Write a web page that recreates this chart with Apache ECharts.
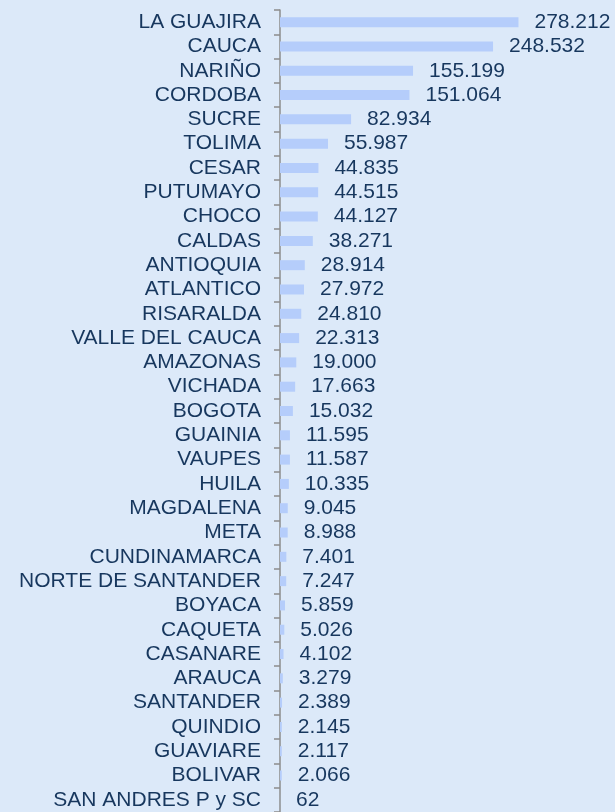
<!DOCTYPE html>
<html>
<head>
<meta charset="utf-8">
<script src="https://cdn.jsdelivr.net/npm/echarts@6/dist/echarts.min.js"></script>
<style>
  html, body { margin: 0; padding: 0; background: #dce9f9; }
  #chart { width: 615px; height: 812px; }
</style>
</head>
<body>
<div id="chart"></div>
<script>
// departamentos, de mayor a menor
var categories = ['LA GUAJIRA', 'CAUCA', 'NARIÑO', 'CORDOBA', 'SUCRE', 'TOLIMA', 'CESAR',
  'PUTUMAYO', 'CHOCO', 'CALDAS', 'ANTIOQUIA', 'ATLANTICO', 'RISARALDA', 'VALLE DEL CAUCA',
  'AMAZONAS', 'VICHADA', 'BOGOTA', 'GUAINIA', 'VAUPES', 'HUILA', 'MAGDALENA', 'META',
  'CUNDINAMARCA', 'NORTE DE SANTANDER', 'BOYACA', 'CAQUETA', 'CASANARE', 'ARAUCA',
  'SANTANDER', 'QUINDIO', 'GUAVIARE', 'BOLIVAR', 'SAN ANDRES P y SC'];
var values = [278212, 248532, 155199, 151064, 82934, 55987, 44835,
  44515, 44127, 38271, 28914, 27972, 24810, 22313,
  19000, 17663, 15032, 11595, 11587, 10335, 9045, 8988,
  7401, 7247, 5859, 5026, 4102, 3279,
  2389, 2145, 2117, 2066, 62];

// separador de miles con punto
function fmt(v) {
  return String(v).replace(/\B(?=(\d{3})+(?!\d))/g, '.');
}

var chart = echarts.init(document.getElementById('chart'));
chart.setOption({
  backgroundColor: '#dce9f9',
  animation: false,
  grid: { left: 280, top: 10, height: 803.6, right: 35 },
  xAxis: {
    type: 'value',
    min: 0,
    max: 350000,
    show: false
  },
  yAxis: {
    type: 'category',
    inverse: true,
    data: categories,
    axisLine: { show: true, lineStyle: { color: '#8c8c8c', width: 1.5 } },
    axisTick: { show: true, length: 6, lineStyle: { color: '#8c8c8c', width: 1.5 } },
    axisLabel: {
      interval: 0,
      margin: 19,
      color: '#17375e',
      fontFamily: 'Liberation Sans, Arial, sans-serif',
      fontSize: 21
    }
  },
  series: [{
    type: 'bar',
    data: values,
    barWidth: 10,
    itemStyle: { color: '#b5cdfb' },
    label: {
      show: true,
      position: 'right',
      distance: 16,
      color: '#17375e',
      fontFamily: 'Liberation Sans, Arial, sans-serif',
      fontSize: 21,
      formatter: function (p) { return fmt(p.value); }
    }
  }]
});
</script>
</body>
</html>
